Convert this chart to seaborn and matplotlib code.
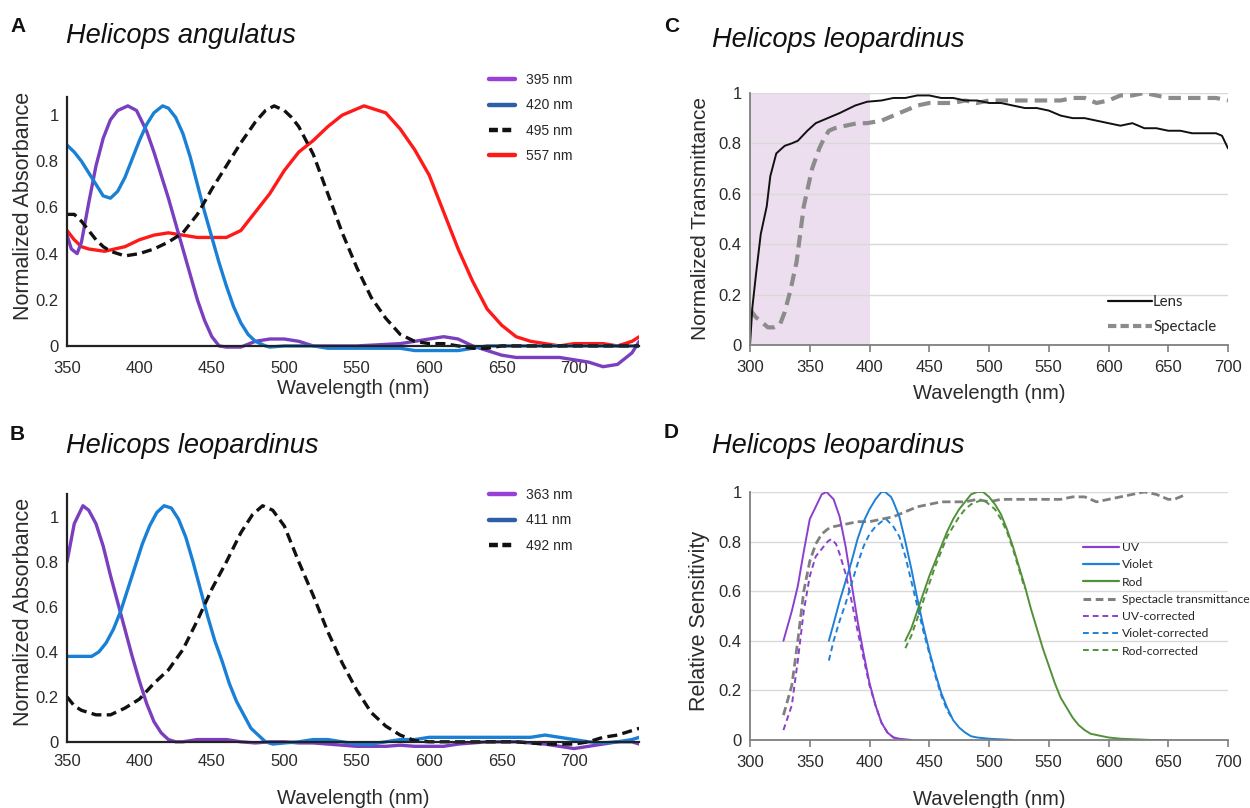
import numpy as np
import pandas as pd
import matplotlib
matplotlib.use("Agg")
import matplotlib.pyplot as plt
from matplotlib.lines import Line2D
import seaborn as sns

# ---------------- data ----------------
# Panel A: Helicops angulatus
a395_wl = [350,353,357,360,365,370,375,380,385,392,398,405,410,415,420,425,430,435,440,445,450,455,460,470,480,490,500,510,520,550,580,590,600,610,620,630,640,650,660,690,700,710,720,730,740,745]
a395_v  = [0.48,0.42,0.40,0.45,0.62,0.78,0.90,0.98,1.02,1.04,1.02,0.93,0.84,0.74,0.64,0.53,0.42,0.31,0.20,0.11,0.04,0.0,-0.005,-0.005,0.02,0.03,0.03,0.02,0.0,0.0,0.01,0.02,0.03,0.04,0.03,0.0,-0.02,-0.04,-0.05,-0.05,-0.06,-0.07,-0.09,-0.08,-0.03,0.02]
a420_wl = [350,355,360,365,370,375,380,385,390,395,400,405,410,416,420,425,430,435,440,445,450,455,460,465,470,475,480,487,490,500,520,530,550,580,590,600,610,620,630,640,660,700,745]
a420_v  = [0.87,0.84,0.80,0.75,0.70,0.65,0.64,0.67,0.73,0.81,0.89,0.96,1.01,1.04,1.03,0.99,0.92,0.82,0.70,0.58,0.47,0.36,0.26,0.17,0.10,0.05,0.02,0.0,-0.005,0.0,0.0,-0.01,-0.01,-0.01,-0.02,-0.02,-0.02,-0.02,-0.01,0.0,0.0,0.0,0.0]
a495_wl = [350,355,360,365,370,375,380,385,390,400,410,420,430,440,450,460,470,480,487,493,500,505,510,520,530,540,550,560,570,580,590,600,610,620,630,640,650,660,700,745]
a495_v  = [0.57,0.57,0.54,0.50,0.46,0.43,0.41,0.40,0.39,0.40,0.42,0.45,0.49,0.57,0.68,0.78,0.88,0.97,1.02,1.04,1.02,0.99,0.95,0.83,0.66,0.49,0.34,0.21,0.12,0.05,0.02,0.01,0.01,0.0,-0.01,-0.01,0.0,0.0,0.0,0.0]
a557_wl = [350,355,360,365,376,390,400,410,420,430,440,450,460,470,480,490,500,510,520,530,540,555,570,580,590,600,610,620,630,640,650,660,670,680,690,700,710,720,730,740,745]
a557_v  = [0.50,0.46,0.43,0.42,0.41,0.43,0.46,0.48,0.49,0.48,0.47,0.47,0.47,0.50,0.58,0.66,0.76,0.84,0.89,0.95,1.00,1.04,1.01,0.94,0.85,0.74,0.58,0.42,0.28,0.16,0.09,0.04,0.02,0.01,0.0,0.01,0.01,0.01,0.0,0.02,0.04]

# Panel B: Helicops leopardinus
b363_wl = [350,355,361,365,370,375,380,385,390,395,400,405,410,415,420,425,430,440,450,460,470,480,490,500,510,520,530,540,550,560,570,580,590,600,610,620,630,640,650,660,670,680,690,700,710,720,730,740,745]
b363_v  = [0.80,0.97,1.05,1.03,0.97,0.87,0.74,0.62,0.50,0.38,0.27,0.17,0.09,0.04,0.01,0.0,0.0,0.01,0.01,0.01,0.0,-0.005,0.0,0.0,-0.005,-0.005,-0.01,-0.015,-0.02,-0.02,-0.02,-0.015,-0.02,-0.02,-0.02,-0.01,-0.005,0.0,0.0,0.0,-0.005,-0.01,-0.02,-0.03,-0.02,-0.01,0.0,0.0,-0.01]
b411_wl = [350,360,367,372,377,382,387,392,397,402,407,412,417,422,427,432,437,442,447,452,457,462,467,472,477,482,487,492,500,510,520,530,540,550,560,570,580,590,600,620,640,660,670,680,690,700,710,720,730,740,745]
b411_v  = [0.38,0.38,0.38,0.40,0.44,0.50,0.58,0.68,0.78,0.88,0.96,1.02,1.05,1.04,0.99,0.91,0.80,0.68,0.56,0.45,0.36,0.26,0.18,0.12,0.06,0.03,0.0,-0.01,-0.005,0.0,0.01,0.01,0.0,-0.01,-0.01,0.0,0.01,0.01,0.02,0.02,0.02,0.02,0.02,0.03,0.02,0.01,0.0,-0.005,0.0,0.01,0.02]
b492_wl = [350,355,360,370,380,390,400,410,420,430,440,450,460,470,478,485,492,500,510,520,530,540,550,560,570,580,590,600,620,640,660,670,680,690,700,710,720,730,740,745]
b492_v  = [0.20,0.16,0.14,0.12,0.12,0.15,0.19,0.26,0.32,0.41,0.54,0.68,0.80,0.93,1.01,1.05,1.03,0.96,0.80,0.65,0.49,0.35,0.23,0.13,0.07,0.03,0.005,0.0,0.0,0.0,0.0,-0.005,-0.01,-0.01,-0.01,0.0,0.02,0.03,0.05,0.06]

# Panel C: transmittance
c_lens_wl = [300,302,305,309,314,317,322,329,335,340,348,355,365,375,388,398,410,420,430,440,450,460,470,480,490,500,510,520,530,540,550,560,570,580,590,600,610,620,630,640,650,660,670,680,690,695,700]
c_lens_v  = [0.0,0.15,0.28,0.44,0.55,0.67,0.76,0.79,0.80,0.81,0.85,0.88,0.90,0.92,0.95,0.965,0.97,0.98,0.98,0.99,0.99,0.98,0.98,0.97,0.97,0.96,0.96,0.95,0.94,0.94,0.93,0.91,0.90,0.90,0.89,0.88,0.87,0.88,0.86,0.86,0.85,0.85,0.84,0.84,0.84,0.83,0.78]
c_spec_wl = [300,305,310,315,320,325,329,334,339,345,352,358,362,366,371,380,390,398,410,420,430,440,450,460,470,480,490,500,510,520,530,540,550,560,570,580,590,600,610,620,630,640,650,660,670,680,690,700]
c_spec_v  = [0.14,0.11,0.09,0.07,0.07,0.08,0.13,0.22,0.33,0.55,0.70,0.78,0.82,0.85,0.86,0.87,0.88,0.88,0.89,0.91,0.93,0.95,0.96,0.96,0.96,0.97,0.96,0.97,0.97,0.97,0.97,0.97,0.97,0.97,0.98,0.98,0.96,0.97,0.99,0.99,1.00,0.99,0.98,0.98,0.98,0.98,0.98,0.97]

# Panel D: relative sensitivity
d_uv_wl = [328,335,340,345,350,355,360,364,370,375,380,385,390,395,400,405,410,415,420,425,435]
d_uv_v  = [0.40,0.52,0.62,0.76,0.89,0.94,0.99,1.00,0.97,0.90,0.78,0.63,0.48,0.35,0.23,0.14,0.07,0.03,0.01,0.005,0.0]
d_vi_wl = [366,370,375,380,385,390,395,400,405,410,413,418,420,425,430,435,440,445,450,455,460,465,470,475,480,485,490,500,520]
d_vi_v  = [0.40,0.47,0.56,0.64,0.72,0.81,0.88,0.93,0.97,1.00,1.00,0.98,0.96,0.90,0.80,0.69,0.57,0.46,0.36,0.27,0.19,0.13,0.08,0.05,0.03,0.015,0.01,0.005,0.0]
d_rod_wl = [430,435,440,445,450,455,460,465,470,475,480,485,490,495,500,505,510,515,520,525,530,535,540,545,550,555,560,565,570,575,580,585,590,600,610,635,650]
d_rod_v  = [0.40,0.45,0.52,0.59,0.66,0.72,0.78,0.84,0.89,0.93,0.96,0.99,1.00,1.00,0.98,0.95,0.91,0.85,0.78,0.70,0.62,0.53,0.45,0.37,0.30,0.23,0.17,0.13,0.09,0.06,0.04,0.025,0.02,0.01,0.005,0.0,0.0]
d_spec_wl = [328,335,340,345,350,355,360,365,370,380,390,400,410,420,430,440,450,460,470,480,490,500,510,520,540,550,560,570,580,590,600,610,620,630,640,650,655,665]
d_spec_v  = [0.10,0.22,0.40,0.60,0.72,0.79,0.83,0.85,0.86,0.87,0.88,0.88,0.89,0.90,0.92,0.94,0.95,0.96,0.96,0.96,0.97,0.96,0.97,0.97,0.97,0.97,0.97,0.98,0.98,0.96,0.97,0.98,0.99,1.00,0.99,0.97,0.97,0.99]
d_uvc_wl = [328,335,340,345,350,355,360,365,368,372,375,380,385,390,395,400,405,410,415,420,425]
d_uvc_v  = [0.04,0.14,0.32,0.52,0.66,0.74,0.77,0.80,0.81,0.79,0.75,0.67,0.56,0.44,0.33,0.22,0.14,0.07,0.03,0.01,0.005]
d_vic_wl = [366,370,375,380,385,390,395,400,405,410,414,418,420,425,430,435,440,445,450,455,460,465,470]
d_vic_v  = [0.32,0.40,0.48,0.55,0.63,0.71,0.78,0.83,0.86,0.88,0.89,0.87,0.86,0.82,0.74,0.64,0.54,0.44,0.35,0.26,0.18,0.12,0.08]
d_rodc_wl = [430,435,440,445,450,455,460,465,470,475,480,485,490,495,500,505,510,515,520,525,530]
d_rodc_v  = [0.37,0.42,0.49,0.56,0.63,0.70,0.76,0.82,0.86,0.90,0.93,0.95,0.96,0.97,0.95,0.93,0.89,0.84,0.77,0.69,0.61]

xticks_ab = [350,400,450,500,550,600,650,700]
xticks_cd = [300,350,400,450,500,550,600,650,700]
yticks = [0,0.2,0.4,0.6,0.8,1.0]
ytick_labels = ["0","0.2","0.4","0.6","0.8","1"]

# ---------------- style ----------------
sns.set_theme(style="white")
plt.rcParams['font.family'] = ['Liberation Sans', 'DejaVu Sans']

PURPLE = "#7a3fbf"
BLUE = "#1a80d6"
RED = "#ff1a1a"
GREEN = "#52903a"
GRAY = "#808080"
TXT = "#2b2b2b"

fig = plt.figure(figsize=(12.5, 8.08), dpi=100)

def line(ax, wl, v, color, lw, ls="-"):
    df = pd.DataFrame({"wl": wl, "v": v})
    sns.lineplot(data=df, x="wl", y="v", ax=ax, color=color, linewidth=lw,
                 linestyle=ls, estimator=None, sort=False, legend=False)

def style_ab(ax, bottom, top, spine_top, xpad):
    ax.set_xlim(350, 745)
    ax.set_ylim(bottom, top)
    ax.spines['top'].set_visible(False)
    ax.spines['right'].set_visible(False)
    ax.spines['bottom'].set_position(('data', 0))
    for s in ('left', 'bottom'):
        ax.spines[s].set_color("#222222")
        ax.spines[s].set_linewidth(1.6)
    ax.spines['left'].set_bounds(0, spine_top)
    ax.set_xticks(xticks_ab)
    ax.set_yticks(yticks)
    ax.set_yticklabels(ytick_labels)
    ax.tick_params(axis='both', length=0, labelsize=12, colors=TXT)
    ax.tick_params(axis='x', pad=xpad)
    ax.tick_params(axis='y', pad=6)

def style_cd(ax):
    ax.set_xlim(300, 700)
    ax.set_ylim(0, 1.0)
    ax.spines['top'].set_visible(False)
    ax.spines['right'].set_visible(False)
    for s in ('left', 'bottom'):
        ax.spines[s].set_color("#7f7f7f")
        ax.spines[s].set_linewidth(1.3)
    ax.set_xticks(xticks_cd)
    ax.set_yticks(yticks)
    ax.set_yticklabels(ytick_labels)
    ax.yaxis.grid(True, color="#d9d9d9", linewidth=1.0)
    ax.set_axisbelow(True)
    ax.tick_params(axis='x', length=5, width=1.2, color="#7f7f7f", direction='out', bottom=True)
    ax.tick_params(axis='y', length=0, pad=6)
    ax.tick_params(axis='both', labelsize=12, colors=TXT)
    ax.tick_params(axis='x', colors="#7f7f7f", labelcolor=TXT, pad=6)

# ---- Panel A ----
axA = fig.add_axes([0.0536, 0.5433, 0.4578, 0.3428])
line(axA, a557_wl, a557_v, RED, 2.4)
line(axA, a395_wl, a395_v, PURPLE, 2.4)
line(axA, a420_wl, a420_v, BLUE, 2.4)
line(axA, a495_wl, a495_v, "#111111", 2.4, (0, (3, 1.6)))
style_ab(axA, -0.1, 1.1, 1.08, 11)
axA.set_xlabel("Wavelength (nm)", fontsize=14.5, color=TXT, labelpad=2)
axA.set_ylabel("Normalized Absorbance", fontsize=15.5, color=TXT)
axA.yaxis.set_label_coords(-0.057, 0.59)
handlesA = [Line2D([], [], color="#9a40d8", lw=3.2),
            Line2D([], [], color="#2f5ea8", lw=3.2),
            Line2D([], [], color="#111111", lw=3.2, ls=(0, (2, 1))),
            Line2D([], [], color="#ff1a1a", lw=3.2)]
fig.legend(handlesA, ["395 nm", "420 nm", "495 nm", "557 nm"], loc='upper left',
           bbox_to_anchor=(489/1250, 1-73/808), frameon=False, fontsize=10,
           handlelength=1.9, handletextpad=0.75, labelspacing=0.82, borderpad=0, borderaxespad=0)

# ---- Panel B ----
axB = fig.add_axes([0.0536, 0.068, 0.4578, 0.320])
line(axB, b363_wl, b363_v, PURPLE, 2.4)
line(axB, b411_wl, b411_v, BLUE, 2.4)
line(axB, b492_wl, b492_v, "#111111", 2.4, (0, (3, 1.6)))
style_ab(axB, -0.05, 1.1, 1.1, 9)
axB.set_xlabel("Wavelength (nm)", fontsize=14.5, color=TXT, labelpad=14)
axB.set_ylabel("Normalized Absorbance", fontsize=15.5, color=TXT)
axB.yaxis.set_label_coords(-0.057, 0.545)
handlesB = [Line2D([], [], color="#9a40d8", lw=3.2),
            Line2D([], [], color="#2f5ea8", lw=3.2),
            Line2D([], [], color="#111111", lw=3.2, ls=(0, (2, 1)))]
fig.legend(handlesB, ["363 nm", "411 nm", "492 nm"], loc='upper left',
           bbox_to_anchor=(489/1250, 1-488/808), frameon=False, fontsize=10,
           handlelength=1.9, handletextpad=0.75, labelspacing=0.82, borderpad=0, borderaxespad=0)

# ---- Panel C ----
axC = fig.add_axes([0.6, 0.573, 0.3824, 0.312])
axC.axvspan(300, 400, color="#ecdeee", zorder=0, lw=0)
line(axC, c_spec_wl, c_spec_v, "#8c8c8c", 3.0, (0, (3, 1.7)))
line(axC, c_lens_wl, c_lens_v, "#111111", 1.4)
style_cd(axC)
axC.set_ylabel("Normalized Transmittance", fontsize=15, color=TXT, labelpad=6)
axC.set_xlabel("Wavelength (nm)", fontsize=14.5, color=TXT, labelpad=6)
handlesC = [Line2D([], [], color="#111111", lw=1.6),
            Line2D([], [], color="#8c8c8c", lw=3.0, ls=(0, (2, 1)))]
axC.legend(handlesC, ["Lens", "Spectacle"], loc='upper left',
           bbox_to_anchor=(1108/1250, 1-295/808), bbox_transform=fig.transFigure,
           frameon=False, prop={'family': ['Lato', 'DejaVu Sans'], 'size': 10.8},
           handlelength=2.9, handletextpad=0.1, labelspacing=0.75, borderpad=0, borderaxespad=0)

# ---- Panel D ----
axD = fig.add_axes([0.6, 0.0842, 0.3824, 0.307])
line(axD, d_spec_wl, d_spec_v, GRAY, 2.0, (0, (3, 1.5)))
line(axD, d_uv_wl, d_uv_v, "#8c3fcc", 1.4)
line(axD, d_vi_wl, d_vi_v, "#1f80d8", 1.4)
line(axD, d_rod_wl, d_rod_v, GREEN, 1.4)
line(axD, d_uvc_wl, d_uvc_v, "#8c3fcc", 1.4, (0, (3, 2)))
line(axD, d_vic_wl, d_vic_v, "#1f80d8", 1.4, (0, (3, 2)))
line(axD, d_rodc_wl, d_rodc_v, GREEN, 1.4, (0, (3, 2)))
style_cd(axD)
axD.set_ylabel("Relative Sensitivity", fontsize=15.5, color=TXT)
axD.yaxis.set_label_coords(-0.084, 0.48)
axD.set_xlabel("Wavelength (nm)", fontsize=14.5, color=TXT, labelpad=14)
handlesD = [Line2D([], [], color="#8c3fcc", lw=1.6),
            Line2D([], [], color="#1f80d8", lw=1.6),
            Line2D([], [], color=GREEN, lw=1.6),
            Line2D([], [], color=GRAY, lw=2.2, ls=(0, (2.5, 1.5))),
            Line2D([], [], color="#8c3fcc", lw=1.4, ls=(0, (3, 2))),
            Line2D([], [], color="#1f80d8", lw=1.4, ls=(0, (3, 2))),
            Line2D([], [], color=GREEN, lw=1.4, ls=(0, (3, 2)))]
axD.legend(handlesD, ["UV", "Violet", "Rod", "Spectacle transmittance", "UV-corrected",
                      "Violet-corrected", "Rod-corrected"], loc='upper left',
           bbox_to_anchor=(1083/1250, 1-542/808), bbox_transform=fig.transFigure,
           frameon=False, prop={'family': ['Lato', 'DejaVu Sans'], 'size': 8.7},
           handlelength=3.0, handletextpad=0.2, labelspacing=0.52, borderpad=0, borderaxespad=0)

# ---- panel letters and titles ----
for lx, ly, letter in [(10, 26, "A"), (10, 435, "B"), (664, 26, "C"), (664, 432, "D")]:
    fig.text(lx/1250, 1-ly/808, letter, fontsize=15, fontweight='bold', color="#111111",
             va='center', ha='left')
for tx, ty, title in [(66, 36, "Helicops angulatus"), (66, 446, "Helicops leopardinus"),
                      (712, 40, "Helicops leopardinus"), (712, 446, "Helicops leopardinus")]:
    fig.text(tx/1250, 1-ty/808, title, fontsize=19.6, fontstyle='italic', color="#111111",
             va='center', ha='left')

fig.savefig("out.png", dpi=100)
